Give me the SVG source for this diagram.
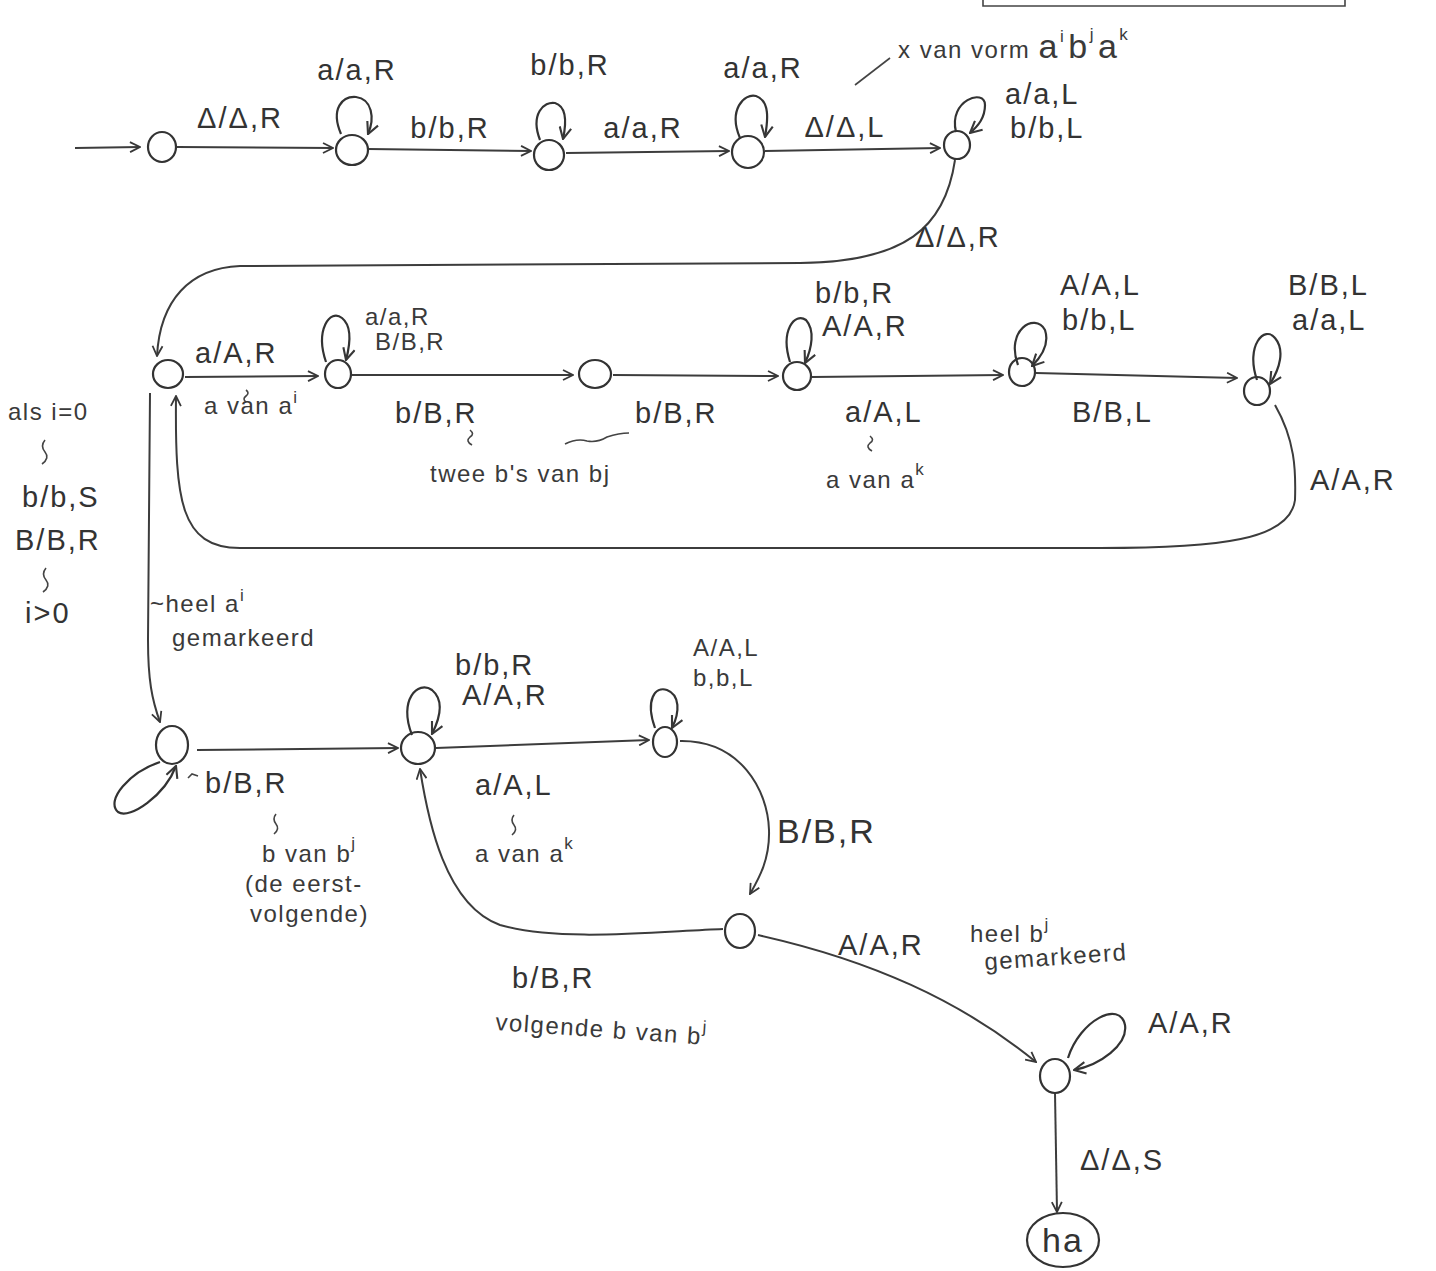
<svg xmlns="http://www.w3.org/2000/svg" width="1436" height="1271" viewBox="0 0 1436 1271">
<defs>
<marker id="ah" viewBox="0 0 12 12" refX="11" refY="6" markerWidth="12" markerHeight="12" markerUnits="userSpaceOnUse" orient="auto">
<path d="M1,1 L11,6 L1,11" fill="none" stroke="#383838" stroke-width="1.8"/>
</marker>
<marker id="ahs" viewBox="0 0 12 12" refX="11" refY="6" markerWidth="14" markerHeight="14" markerUnits="userSpaceOnUse" orient="auto">
<path d="M1,1 L11,6 L1,11" fill="none" stroke="#383838" stroke-width="1.8"/>
</marker>
<style>
.n{fill:none;stroke:#333;stroke-width:2.2}
.e{fill:none;stroke:#3c3c3c;stroke-width:2;marker-end:url(#ah)}
.l{fill:none;stroke:#333;stroke-width:2.2;marker-end:url(#ahs)}
.m{fill:none;stroke:#444;stroke-width:1.6}
.t{font-family:"Liberation Sans",Arial,sans-serif;font-size:29px;fill:#333;letter-spacing:2px}
.s{font-family:"Liberation Sans",Arial,sans-serif;font-size:24px;fill:#3a3a3a;letter-spacing:1.5px}
.b{font-family:"Liberation Sans",Arial,sans-serif;font-size:34px;fill:#333;letter-spacing:2px}
.sup{font-size:17px}
.big{font-size:34px}
</style>
</defs>
<rect width="1436" height="1271" fill="#ffffff"/>
<path class="m" d="M983,0 V6 H1345 V0"/>

<g id="connectors">
<path class="e" d="M75,148 L140,147"/>
<path class="e" d="M177,147 L333,148"/>
<path class="e" d="M368,149 L531,151"/>
<path class="e" d="M566,153 L729,151"/>
<path class="e" d="M765,151 L940,148"/>
<path class="l" d="M341,134 C330,108 343,96 356,97 C372,99 375,118 368,134"/>
<path class="l" d="M540,140 C530,114 544,101 555,103 C568,107 566,125 563,139"/>
<path class="l" d="M740,138 C728,110 744,93 756,96 C770,101 768,120 765,137"/>
<path class="l" d="M956,132 C948,100 985,88 985,105 C985,118 978,126 970,133"/>
<path class="e" d="M955,160 C945,228 905,262 800,263 L240,266 C190,268 160,300 157,356"/>
<path class="e" d="M185,377 L318,376"/>
<path class="e" d="M352,375 L573,375"/>
<path class="e" d="M613,375 L778,376"/>
<path class="e" d="M812,377 L1003,375"/>
<path class="e" d="M1036,373 L1237,378"/>
<path class="l" d="M326,362 C315,330 330,308 342,318 C352,326 350,345 346,360"/>
<path class="l" d="M790,362 C780,330 795,312 806,320 C815,330 812,348 805,363"/>
<path class="l" d="M1018,365 C1005,330 1035,312 1045,330 C1050,345 1040,358 1032,366"/>
<path class="l" d="M1257,380 C1245,345 1265,325 1275,338 C1285,350 1280,368 1270,384"/>
<path class="e" d="M1275,405 C1295,440 1296,470 1295,500 C1290,540 1220,548 1100,548 L240,548 C180,548 175,500 176,396"/>
<path class="e" d="M150,393 L148,640 C148,680 152,700 160,722"/>
<path class="l" d="M160,762 C130,772 105,800 118,812 C130,820 165,795 176,766"/>
<path class="e" d="M197,750 L398,748"/>
<path class="l" d="M412,735 C398,700 418,680 432,690 C444,700 440,718 432,734"/>
<path class="e" d="M436,748 L649,740"/>
<path class="l" d="M655,728 C645,700 655,686 667,690 C680,695 680,712 672,728"/>
<path class="e" d="M680,741 C740,740 768,790 769,830 C770,860 758,880 750,894"/>
<path class="e" d="M723,929 C650,932 560,942 500,925 C445,905 428,820 420,769"/>
<path class="e" d="M758,935 C870,960 960,1000 1036,1062"/>
<path class="l" d="M1068,1058 C1080,1020 1120,1000 1125,1025 C1128,1045 1100,1065 1074,1070"/>
<path class="e" d="M1055,1093 L1057,1212"/>
<path class="m" d="M855,85 L890,58"/>
</g>

<g id="N0"><ellipse class="n" cx="162" cy="147" rx="14" ry="15"/></g>
<g id="N1"><ellipse class="n" cx="352" cy="150" rx="16" ry="15"/></g>
<g id="N2"><ellipse class="n" cx="549" cy="155" rx="15" ry="15"/></g>
<g id="N3"><ellipse class="n" cx="748" cy="152" rx="16" ry="16"/></g>
<g id="N4"><ellipse class="n" cx="957" cy="145" rx="13" ry="14"/></g>
<g id="N5"><ellipse class="n" cx="168" cy="374" rx="15" ry="14"/></g>
<g id="N6"><ellipse class="n" cx="338" cy="374" rx="13" ry="14"/></g>
<g id="N7"><ellipse class="n" cx="595" cy="374" rx="16" ry="14"/></g>
<g id="N8"><ellipse class="n" cx="797" cy="376" rx="14" ry="14"/></g>
<g id="N9"><ellipse class="n" cx="1022" cy="372" rx="13" ry="14"/></g>
<g id="N10"><ellipse class="n" cx="1257" cy="391" rx="13" ry="14"/></g>
<g id="N11"><ellipse class="n" cx="172" cy="745" rx="16" ry="19"/></g>
<g id="N12"><ellipse class="n" cx="418" cy="748" rx="17" ry="16"/></g>
<g id="N13"><ellipse class="n" cx="665" cy="742" rx="12" ry="15"/></g>
<g id="N14"><ellipse class="n" cx="740" cy="931" rx="15" ry="17"/></g>
<g id="N15"><ellipse class="n" cx="1055" cy="1076" rx="15" ry="17"/></g>
<g id="ha"><ellipse class="n" cx="1063" cy="1240" rx="36" ry="27"/><text class="b" x="1063" y="1252" text-anchor="middle">ha</text></g>

<g id="labels">
<text class="t" x="240" y="128" text-anchor="middle">Δ/Δ,R</text>
<text class="t" x="357" y="80" text-anchor="middle">a/a,R</text>
<text class="t" x="450" y="138" text-anchor="middle">b/b,R</text>
<text class="t" x="570" y="75" text-anchor="middle">b/b,R</text>
<text class="t" x="643" y="138" text-anchor="middle">a/a,R</text>
<text class="t" x="763" y="78" text-anchor="middle">a/a,R</text>
<text class="t" x="845" y="137" text-anchor="middle">Δ/Δ,L</text>
<text class="t" x="1005" y="104">a/a,L</text>
<text class="t" x="1010" y="138">b/b,L</text>
<text class="s" x="898" y="58">x van vorm <tspan class="big">a</tspan><tspan class="sup" dx="1" dy="-16">i</tspan><tspan class="big" dx="3" dy="16">b</tspan><tspan class="sup" dx="1" dy="-18">j</tspan><tspan class="big" dx="3" dy="18">a</tspan><tspan class="sup" dx="1" dy="-18">k</tspan></text>
<text class="t" x="915" y="247">Δ/Δ,R</text>

<text class="t" x="195" y="363">a/A,R</text>
<path class="m" d="M246,390 q4,3 0,6 q-4,3 0,6"/>
<text class="s" x="204" y="414">a van a<tspan class="sup" dy="-11">i</tspan></text>
<text class="s" x="365" y="325">a/a,R</text>
<text class="s" x="375" y="350">B/B,R</text>
<text class="t" x="395" y="423">b/B,R</text>
<text class="t" x="635" y="423">b/B,R</text>
<path class="m" d="M470,430 q5,4 0,7 q-5,4 2,8"/>
<path class="m" d="M565,444 q12,-6 22,-3 q10,2 20,-4 q12,-4 22,-4"/>
<text class="s" x="430" y="482">twee b's van bj</text>
<text class="t" x="815" y="303">b/b,R</text>
<text class="t" x="822" y="336">A/A,R</text>
<text class="t" x="845" y="422">a/A,L</text>
<path class="m" d="M870,436 q5,4 0,7 q-5,4 2,8"/>
<text class="s" x="826" y="488">a van a<tspan class="sup" dy="-13">k</tspan></text>
<text class="t" x="1060" y="295">A/A,L</text>
<text class="t" x="1062" y="330">b/b,L</text>
<text class="t" x="1072" y="422">B/B,L</text>
<text class="t" x="1288" y="295">B/B,L</text>
<text class="t" x="1292" y="330">a/a,L</text>
<text class="t" x="1310" y="490">A/A,R</text>

<text class="s" x="8" y="420">als i=0</text>
<path class="m" d="M45,440 q-5,6 0,12 q5,6 -3,12"/>
<text class="t" x="22" y="507">b/b,S</text>
<text class="t" x="15" y="550">B/B,R</text>
<path class="m" d="M46,568 q-5,6 0,12 q5,6 -3,12"/>
<text class="t" x="25" y="623">i&gt;0</text>
<text class="s" x="150" y="612">~heel a<tspan class="sup" dy="-11">i</tspan></text>
<text class="s" x="172" y="646">gemarkeerd</text>

<text class="t" x="455" y="675">b/b,R</text>
<text class="t" x="462" y="705">A/A,R</text>
<text class="s" x="693" y="656">A/A,L</text>
<text class="s" x="693" y="686">b,b,L</text>
<path class="m" d="M188,778 l4,-4 l6,2"/>
<text class="t" x="205" y="793">b/B,R</text>
<path class="m" d="M276,814 q-4,5 0,10 q4,5 -2,10"/>
<text class="s" x="262" y="862">b van b<tspan class="sup" dy="-13">j</tspan></text>
<text class="s" x="245" y="892">(de eerst-</text>
<text class="s" x="250" y="922">volgende)</text>
<text class="t" x="475" y="795">a/A,L</text>
<path class="m" d="M514,815 q-4,5 0,10 q4,5 -2,10"/>
<text class="s" x="475" y="862">a van a<tspan class="sup" dy="-13">k</tspan></text>
<text class="b" x="777" y="843">B/B,R</text>
<text class="t" x="838" y="955">A/A,R</text>
<text class="s" x="970" y="942">heel b<tspan class="sup" dy="-12">j</tspan></text>
<text class="s" x="985" y="970" transform="rotate(-4 985 970)">gemarkeerd</text>
<text class="t" x="512" y="988">b/B,R</text>
<text class="s" x="495" y="1030" transform="rotate(4 495 1030)">volgende b van b<tspan class="sup" dy="-12">j</tspan></text>
<text class="t" x="1148" y="1033">A/A,R</text>
<text class="t" x="1080" y="1170">Δ/Δ,S</text>
</g>
</svg>
